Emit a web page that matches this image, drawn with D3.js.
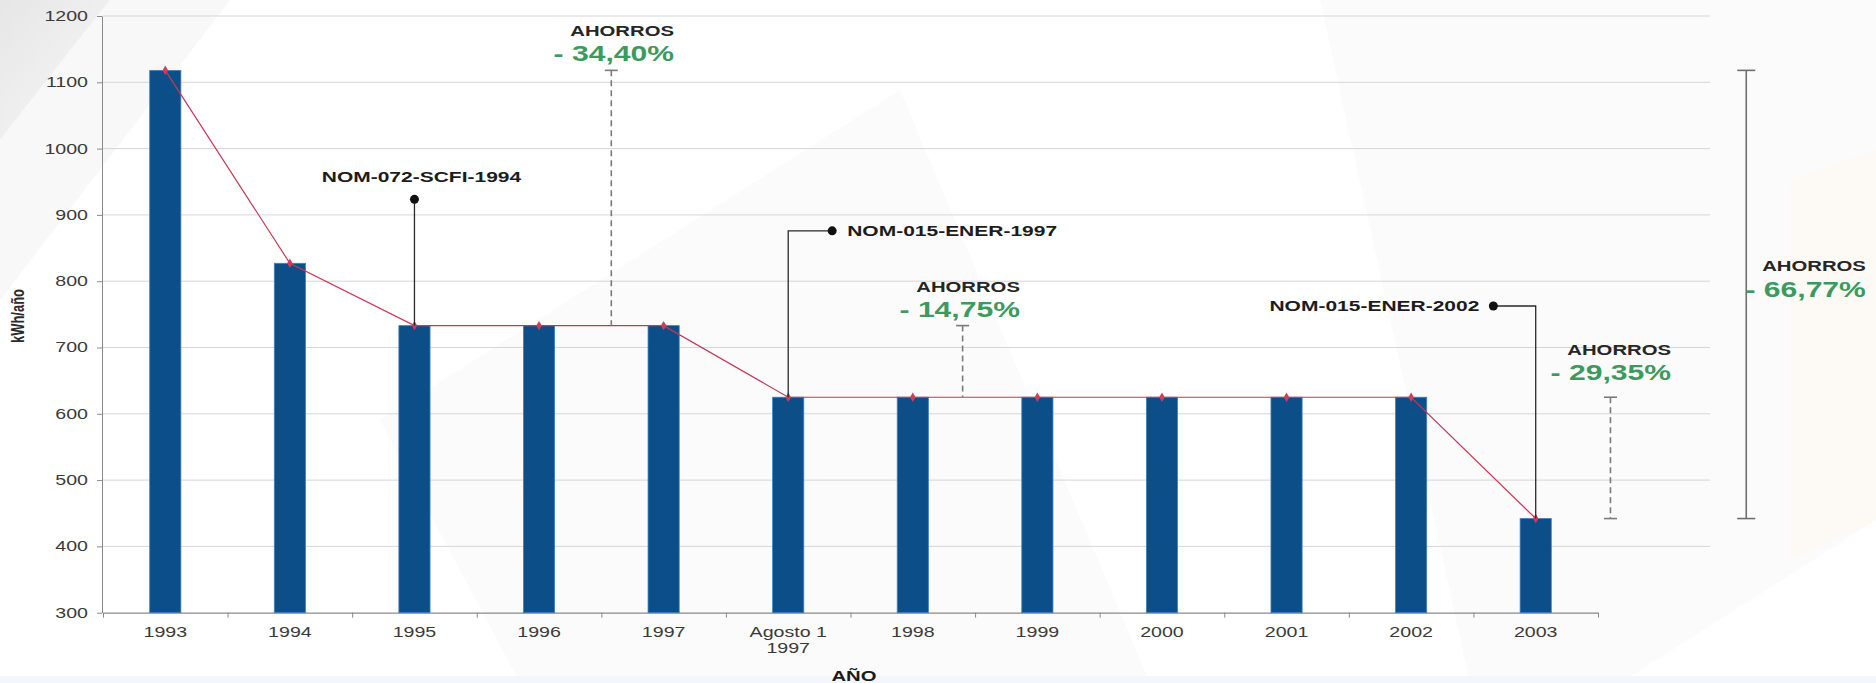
<!DOCTYPE html>
<html>
<head>
<meta charset="utf-8">
<script src="https://cdn.jsdelivr.net/npm/d3@7/dist/d3.min.js"></script>
<style>
  html, body { margin: 0; padding: 0; background: #ffffff; }
  svg { display: block; }
  text { font-family: Arial, "Liberation Sans", sans-serif; }
</style>
</head>
<body>
<svg id="chart" width="1876" height="683"></svg>
<script>
// ---------- data ----------
const categories = ["1993", "1994", "1995", "1996", "1997", "Agosto 1|1997", "1998", "1999", "2000", "2001", "2002", "2003"];
const values = [1118, 827, 733, 733, 733, 625, 625, 625, 625, 625, 625, 442];
const yTicks = [300, 400, 500, 600, 700, 800, 900, 1000, 1100, 1200];
const yTitle = "kWh/año";
const xTitle = "AÑO";

// savings brackets: value range, position in category-index units, label
const savingsLabels = ["- 34,40%", "- 14,75%", "- 29,35%", "- 66,77%"];
const savingsFrom = [1118, 733, 625, 1118];
const savingsTo = [733, 625, 442, 442];
const savingsAt = [3.58, 6.40, 11.60, 12.69];
const savingsLabelAt = [4.083, 6.86, 12.086, 13.65];
const savingsLabelValue = [1143.7, 757.6, 662, 787.8];
const savingsDashed = [true, true, true, false];
const savingsCapBottom = [false, false, true, true];

// standards (NOM) call-outs
const normLabels = ["NOM-072-SCFI-1994", "NOM-015-ENER-1997", "NOM-015-ENER-2002"];
const normIndex = [2, 5, 11];
const normLevel = [923.5, 876, 762.6];
const normDotAt = [2, 5.353, 10.66];

// ---------- layout ----------
const SX = 1.4; // horizontal stretch of the original typography
const svg = d3.select("#chart");

// faint background shapes
const bg = svg.append("g");
const defs = svg.append("defs");
const g1 = defs.append("linearGradient").attr("id", "gl").attr("x1", 0).attr("y1", 0).attr("x2", 1).attr("y2", 1);
g1.append("stop").attr("offset", 0).attr("stop-color", "#e6e6e6");
g1.append("stop").attr("offset", 1).attr("stop-color", "#f8f8f8");
bg.append("path").attr("d", "M0,0 L110,0 L0,140 Z").attr("fill", "url(#gl)");
bg.append("path").attr("d", "M0,140 L110,0 L230,0 L0,300 Z").attr("fill", "#f8f8f8");
bg.append("path").attr("d", "M380,420 L900,90 L1150,683 L520,683 Z").attr("fill", "#fbfbfb");
bg.append("path").attr("d", "M1320,0 L1876,0 L1876,520 L1620,683 L1470,683 Z").attr("fill", "#fbfbfb");
bg.append("path").attr("d", "M1790,180 L1876,150 L1876,520 L1790,560 Z").attr("fill", "#fdf9f5");
bg.append("rect").attr("x", 0).attr("y", 676).attr("width", 1876).attr("height", 7).attr("fill", "#f3f7fb");

const x = d3.scaleBand().domain(categories).range([103, 1598]).paddingInner(0.75).paddingOuter(0.375);
const xEdge = d3.scaleLinear().domain([0, categories.length]).range([103, 1598]);
const xi = d3.scaleLinear().domain([0, categories.length - 1])
  .range([x(categories[0]) + x.bandwidth() / 2, x(categories[categories.length - 1]) + x.bandwidth() / 2]);
const y = d3.scaleLinear().domain([300, 1200]).range([612.7, 16]);

// gridlines
svg.append("g").selectAll("line").data(yTicks.slice(1)).join("line")
  .attr("x1", 103).attr("x2", 1710)
  .attr("y1", d => y(d)).attr("y2", d => y(d))
  .attr("stroke", "#d6d6d6").attr("stroke-width", 1);

// y axis
const yAxis = svg.append("g").attr("transform", "translate(102,0)")
  .call(d3.axisLeft(y).tickValues(yTicks).tickFormat(d3.format("d")).tickSize(5).tickSizeOuter(0));
yAxis.select(".domain").attr("stroke", "#8a8a8a");
yAxis.selectAll(".tick line").attr("stroke", "#8a8a8a");
yAxis.selectAll(".tick text")
  .attr("x", -14 / SX).attr("transform", `scale(${SX},1)`)
  .attr("font-size", 14).attr("fill", "#3a3a3a")
  .style("font-family", "Arial, 'Liberation Sans', sans-serif");

// x axis (boundary ticks)
const xAxis = svg.append("g").attr("transform", `translate(0,${y(300)})`)
  .call(d3.axisBottom(xEdge).tickValues(d3.range(categories.length + 1)).tickSize(5).tickSizeOuter(0).tickFormat(""));
xAxis.select(".domain").attr("stroke", "#8a8a8a").attr("stroke-width", 1.3);
xAxis.selectAll(".tick line").attr("stroke", "#8a8a8a");

// category labels
const catG = svg.append("g").selectAll("text").data(categories).join("text")
  .attr("transform", d => `translate(${x(d) + x.bandwidth() / 2},636.5) scale(${SX},1)`)
  .attr("text-anchor", "middle").attr("font-size", 14).attr("fill", "#3a3a3a");
catG.each(function (d) {
  const lines = d.split("|");
  d3.select(this).selectAll("tspan").data(lines).join("tspan")
    .attr("x", 0).attr("dy", (l, i) => i === 0 ? 0 : 16.6).text(l => l);
});

// bars
svg.append("g").selectAll("rect").data(values).join("rect")
  .attr("x", (d, i) => x(categories[i]))
  .attr("width", x.bandwidth())
  .attr("y", d => y(d))
  .attr("height", d => y(300) - y(d))
  .attr("fill", "#0c4f88")
  .attr("stroke", "#3f7fbd").attr("stroke-width", 0.8);

// line + markers
const pts = values.map((v, i) => [x(categories[i]) + x.bandwidth() / 2, y(v)]);
svg.append("path").datum(pts)
  .attr("d", d3.line())
  .attr("fill", "none").attr("stroke", "#c23a55").attr("stroke-width", 1.2);
svg.append("g").selectAll("path").data(pts).join("path")
  .attr("d", d3.symbol(d3.symbolDiamond, 26))
  .attr("transform", d => `translate(${d[0]},${d[1]})`)
  .attr("fill", "#d23c5a");

// savings brackets
const sav = svg.append("g");
savingsLabels.forEach((lab, i) => {
  const lx = xi(savingsAt[i]);
  const y1 = y(savingsFrom[i]), y2 = y(savingsTo[i]);
  const col = savingsDashed[i] ? "#7a7a7a" : "#6e6e6e";
  const capW = savingsDashed[i] ? 13 : 18;
  sav.append("line").attr("x1", lx).attr("x2", lx).attr("y1", y1).attr("y2", y2)
    .attr("stroke", col).attr("stroke-width", 1.6)
    .attr("stroke-dasharray", savingsDashed[i] ? "6,4" : null);
  sav.append("line").attr("x1", lx - capW / 2).attr("x2", lx + capW / 2).attr("y1", y1).attr("y2", y1)
    .attr("stroke", col).attr("stroke-width", 1.6);
  if (savingsCapBottom[i]) {
    sav.append("line").attr("x1", lx - capW / 2).attr("x2", lx + capW / 2).attr("y1", y2).attr("y2", y2)
      .attr("stroke", col).attr("stroke-width", 1.6);
  }
  const tx = xi(savingsLabelAt[i]), ty = y(savingsLabelValue[i]);
  sav.append("text").attr("transform", `translate(${tx},${ty + 7.5}) scale(${SX},1)`)
    .attr("text-anchor", "end").attr("font-size", 21.5).attr("font-weight", "bold")
    .attr("fill", "#3d9a5e").text(lab);
  sav.append("text").attr("transform", `translate(${tx},${ty - 23 + 5.2}) scale(${SX},1)`)
    .attr("text-anchor", "end").attr("font-size", 14.5).attr("font-weight", "bold")
    .attr("fill", "#262626").text("AHORROS");
});

// NOM call-outs
const nom = svg.append("g");
normLabels.forEach((lab, i) => {
  const bx = xi(normIndex[i]);
  const by = y(values[normIndex[i]]);
  const ly = y(normLevel[i]);
  const dx = xi(normDotAt[i]);
  nom.append("path").attr("d", `M${bx},${by} L${bx},${ly} L${dx},${ly}`)
    .attr("fill", "none").attr("stroke", "#2a2a2a").attr("stroke-width", 1.3);
  nom.append("circle").attr("cx", dx).attr("cy", ly).attr("r", 4.5).attr("fill", "#111");
  let tx, ty, anchor;
  if (normDotAt[i] === normIndex[i]) { tx = dx + 7; ty = ly - 17; anchor = "middle"; }
  else if (normDotAt[i] > normIndex[i]) { tx = dx + 15; ty = ly + 5.4; anchor = "start"; }
  else { tx = dx - 14; ty = ly + 5.4; anchor = "end"; }
  nom.append("text").attr("transform", `translate(${tx},${ty}) scale(${SX},1)`)
    .attr("text-anchor", anchor).attr("font-size", 15).attr("font-weight", "bold")
    .attr("fill", "#1c1c1c").text(lab);
});

// axis titles
svg.append("text").attr("transform", `translate(24,316) rotate(-90) scale(1,${SX})`)
  .attr("text-anchor", "middle").attr("font-size", 13).attr("font-weight", "bold")
  .attr("fill", "#2a2a2a").text(yTitle);
svg.append("text").attr("transform", `translate(854,680.5) scale(${SX},1)`)
  .attr("text-anchor", "middle").attr("font-size", 14.5).attr("font-weight", "bold")
  .attr("fill", "#1c1c1c").text(xTitle);
</script>
</body>
</html>
